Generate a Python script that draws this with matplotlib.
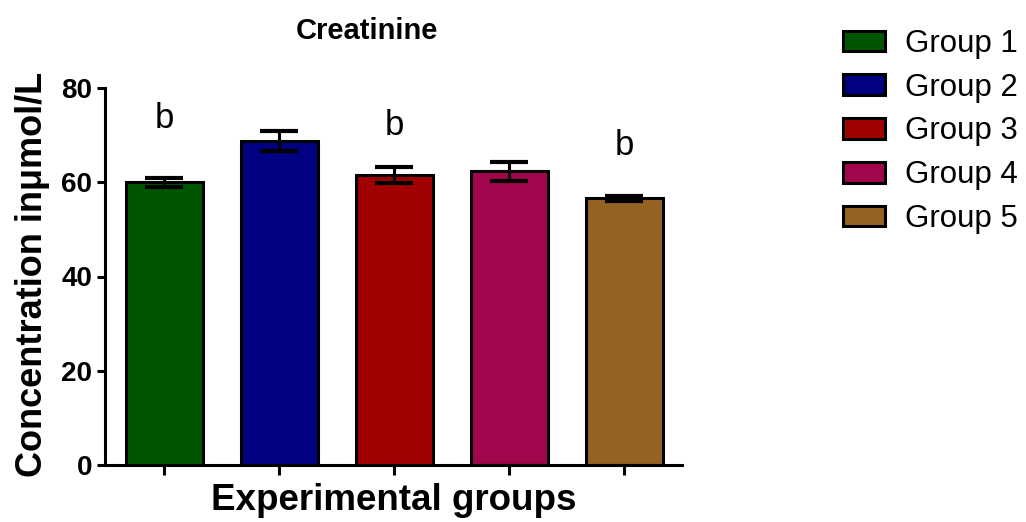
import numpy as np
import matplotlib
matplotlib.use("Agg")
import matplotlib.pyplot as plt

plt.rcParams['font.family'] = ['Liberation Sans', 'DejaVu Sans']

groups = ["Group 1", "Group 2", "Group 3", "Group 4", "Group 5"]
means = [60.0, 68.7, 61.6, 62.3, 56.6]
sem = [1.0, 2.1, 1.7, 2.1, 0.5]
colors = ["#005500", "#000080", "#a00000", "#a0064b", "#946323"]
letters = ["b", "", "b", "", "b"]
letter_y = [73.6, 0, 72.1, 0, 67.9]


fig = plt.figure(figsize=(10.26, 5.22), dpi=100)
ax = fig.add_axes([105 / 1026, 1 - 465 / 522, 577 / 1026, 377 / 522])

x = np.arange(len(groups))
bars = ax.bar(x, means, width=0.67, color=colors, edgecolor="black",
              linewidth=2.2, zorder=2)
ax.errorbar(x, means, yerr=sem, fmt="none", ecolor="black", elinewidth=2.2,
            capsize=13.5, capthick=3, zorder=3)

for xi, t, yy in zip(x, letters, letter_y):
    if t:
        ax.text(xi, yy, t, ha="center", va="center", fontsize=25)

ax.set_xlim(-0.517, 4.504)
ax.set_ylim(0, 80)
ax.set_yticks([0, 20, 40, 60, 80])
ax.set_xticks(x)
ax.set_xticklabels([])
for s in ["top", "right"]:
    ax.spines[s].set_visible(False)
for s in ["left", "bottom"]:
    ax.spines[s].set_linewidth(2.2)
ax.tick_params(axis="y", length=6, width=2.2, labelsize=20, pad=3)
ax.tick_params(axis="x", length=7.5, width=2.2)
for lab in ax.get_yticklabels():
    lab.set_fontweight("bold")

fig.text(367 / 1026, 1 - 31 / 522, "Creatinine", ha="center", va="center",
         fontsize=21, fontweight="bold")
fig.text(33 / 1026, 1 - 274 / 522, "Concentration inμmol/L", rotation=90,
         ha="center", va="center", fontsize=26, fontweight="bold")
fig.text(394 / 1026, 1 - 500 / 522, "Experimental groups", ha="center",
         va="center", fontsize=26.5, fontweight="bold")

handles = [plt.Rectangle((0, 0), 1, 1, facecolor=c, edgecolor="black",
                         linewidth=2.2) for c in colors]
fig.legend(handles, groups, loc="upper left",
           bbox_to_anchor=(843 / 1026, 1 - 29 / 522), frameon=False,
           fontsize=22.5, handlelength=1.35, handleheight=0.64,
           handletextpad=0.64, labelspacing=0.44, borderaxespad=0,
           borderpad=0)

fig.savefig("out.png", dpi=100)
